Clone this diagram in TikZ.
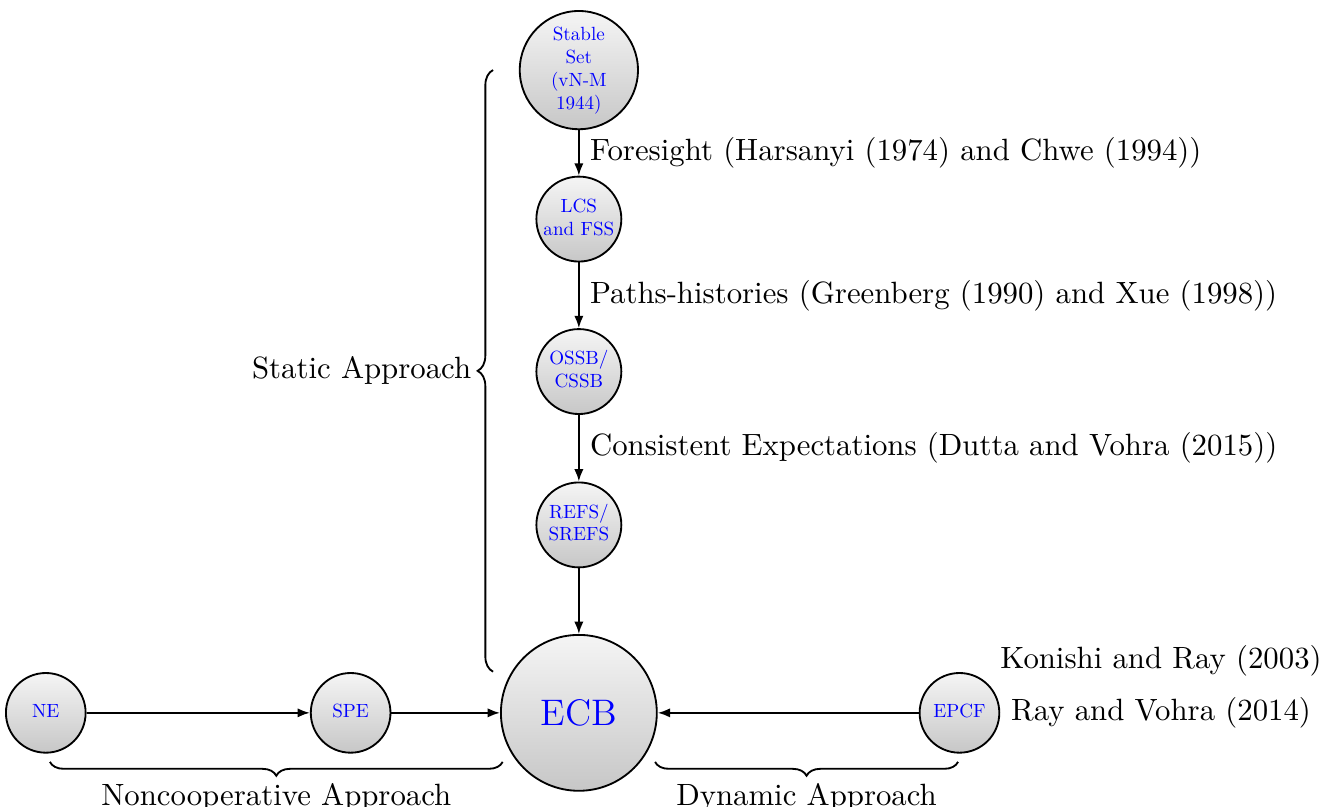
\documentclass[tikz,border=0pt]{standalone}
\usepackage{graphicx}
\usepackage{tikz}
\usetikzlibrary{positioning}
\usetikzlibrary{arrows.meta}
\usetikzlibrary{decorations.pathreplacing}

\newcommand{\bubtext}[1]{\scalebox{0.62}{\begin{tabular}{@{}c@{}}#1\end{tabular}}}

\begin{document}
\begin{tikzpicture}[
        bubble/.style = {circle, draw, semithick, top color=black!4, bottom color=black!22, text=blue, align=center, inner sep=0pt, minimum size=#1},
        bubble/.default = 0.91cm,
        link/.style = {semithick, -{Latex[length=4pt]}},
        brace/.style = {decorate, decoration={brace, amplitude=#1}, semithick},
        brace/.default = 5pt,
    ]
    \useasboundingbox (-6.61,-1.07) rectangle (8.52,8.14);
    % ECB
    \node[bubble=1.78cm, font=\large] (ecb) at (0,0) {ECB};
    % static approach
    \node[bubble=0.97cm, above=0.75cm of ecb] (refs) {\bubtext{REFS/\\SREFS}};
    \node[bubble=0.97cm, above=0.76cm of refs] (ossb) {\bubtext{OSSB/\\CSSB}};
    \node[bubble=0.97cm, above=0.75cm of ossb] (lcs) {\bubtext{LCS\\and FSS}};
    \node[bubble=1.35cm, above=0.52cm of lcs] (stable) {\bubtext{Stable\\Set\\(vN-M\\1944)}};
    % noncooperative approach
    \node[bubble, left=1.24cm of ecb] (spe) {\bubtext{SPE}};
    \node[bubble, left=2.55cm of spe] (ne) {\bubtext{NE}};
    % dynamic approach
    \node[bubble, right=2.98cm of ecb] (epcf) {\bubtext{EPCF}};
    \node[right=0pt of epcf] (ray) {Ray and Vohra (2014)};
    \node[above=0pt of ray] (konishi) {Konishi and Ray (2003)};
    % arrows
    \draw[link] (stable) -- (lcs) node[midway, right] {Foresight (Harsanyi (1974) and Chwe (1994))};
    \draw[link] (lcs) -- (ossb) node[midway, right] {Paths-histories (Greenberg (1990) and Xue (1998))};
    \draw[link] (ossb) -- (refs) node[midway, right] {Consistent Expectations (Dutta and Vohra (2015))};
    \draw[link] (refs) -- (ecb);
    \draw[link] (ne) -- (spe);
    \draw[link] (spe) -- (ecb);
    \draw[link] (epcf) -- (ecb);
    % braces
    \draw[brace] (-0.98,0.47) -- (-0.98,7.34) node[midway, left=3.5pt] {Static Approach};
    \draw[brace=4.5pt] (-0.87,-0.56) -- (-6.04,-0.56) node[midway, below=3.3pt] {Noncooperative Approach};
    \draw[brace=4.5pt] (4.33,-0.56) -- (0.87,-0.56) node[midway, below=3.3pt] {Dynamic Approach};
\end{tikzpicture}
\end{document}
